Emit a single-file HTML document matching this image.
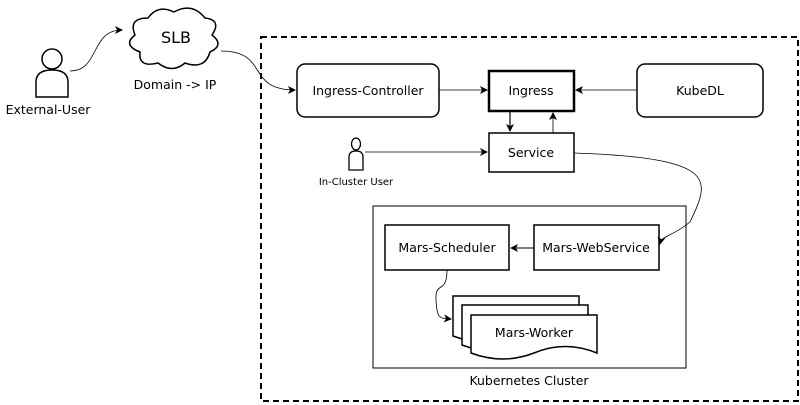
<!DOCTYPE html>
<html><head><style>body{margin:0;background:#fff}svg{display:block}text{font-family:"DejaVu Sans",Verdana,sans-serif;font-size:12.5px;fill:#000}</style></head><body>
<svg width="800" height="405" viewBox="0 0 800 405">
<defs><marker id="a" markerWidth="8" markerHeight="8" refX="7" refY="4" orient="auto" markerUnits="userSpaceOnUse"><path d="M0,0 L8,4 L0,8 L2,4z" fill="#000"/></marker></defs>
<rect x="261" y="37" width="537" height="364" fill="none" stroke="#000" stroke-width="2" stroke-dasharray="6,4"/>
<circle cx="52" cy="59" r="10" fill="#fff" stroke="#000" stroke-width="1.5"/>
<path d="M36,97 L36,82 Q36,70 52,70 Q68,70 68,82 L68,97 Z" fill="#fff" stroke="#000" stroke-width="1.5"/>
<text x="48" y="114" text-anchor="middle">External-User</text>
<path d="M135,35 Q128,18 148,18 Q158,4 174,12 Q192,2 205,18 Q222,20 212,35 Q225,45 210,52 Q205,70 185,63 Q172,74 158,63 Q138,68 140,52 Q122,45 135,35Z" fill="#fff" stroke="#000" stroke-width="1.5"/>
<text x="176" y="43" text-anchor="middle" style="font-size:16px">SLB</text>
<text x="175" y="89" text-anchor="middle">Domain -&gt; IP</text>
<path d="M70,71 C100,71 90,30 122,30" fill="none" stroke="#000" stroke-width="0.8" marker-end="url(#a)"/>
<path d="M221,51 C270,51 245,90 295,90" fill="none" stroke="#000" stroke-width="0.8" marker-end="url(#a)"/>
<rect x="297" y="64" width="142" height="53" rx="8" fill="#fff" stroke="#000" stroke-width="1.5"/>
<text x="368" y="95" text-anchor="middle">Ingress-Controller</text>
<rect x="489" y="71" width="85" height="40" fill="#fff" stroke="#000" stroke-width="2.5"/>
<text x="531" y="95" text-anchor="middle">Ingress</text>
<rect x="637" y="64" width="126" height="53" rx="8" fill="#fff" stroke="#000" stroke-width="1.5"/>
<text x="700" y="95" text-anchor="middle">KubeDL</text>
<rect x="489" y="133" width="85" height="39" fill="#fff" stroke="#000" stroke-width="1.5"/>
<text x="531" y="157" text-anchor="middle">Service</text>
<line x1="439" y1="90" x2="487" y2="90" stroke="#000" stroke-width="0.8" marker-end="url(#a)"/>
<line x1="637" y1="90" x2="576" y2="90" stroke="#000" stroke-width="0.8" marker-end="url(#a)"/>
<line x1="510" y1="111" x2="510" y2="131" stroke="#000" stroke-width="1.2" marker-end="url(#a)"/>
<line x1="553" y1="133" x2="553" y2="113" stroke="#000" stroke-width="0.8" marker-end="url(#a)"/>
<ellipse cx="356" cy="144" rx="4.5" ry="6" fill="#fff" stroke="#000" stroke-width="1.3"/>
<path d="M349,170 L349,157 Q349,151 356,151 Q363,151 363,157 L363,170Z" fill="#fff" stroke="#000" stroke-width="1.3"/>
<text x="356" y="185" text-anchor="middle" style="font-size:10px">In-Cluster User</text>
<line x1="365" y1="152" x2="487" y2="152" stroke="#000" stroke-width="0.8" marker-end="url(#a)"/>
<rect x="373" y="206" width="313" height="162" fill="none" stroke="#000" stroke-width="1"/>
<text x="529" y="385" text-anchor="middle">Kubernetes Cluster</text>
<rect x="385" y="225" width="124" height="45" fill="#fff" stroke="#000" stroke-width="1.5"/>
<text x="447" y="252" text-anchor="middle">Mars-Scheduler</text>
<rect x="534" y="225" width="125" height="45" fill="#fff" stroke="#000" stroke-width="1.5"/>
<text x="596" y="252" text-anchor="middle">Mars-WebService</text>
<line x1="534" y1="248" x2="511" y2="248" stroke="#000" stroke-width="1" marker-end="url(#a)"/>
<path d="M574,153 C720,158 710,180 690,222 C670,238 662,235 660,244" fill="none" stroke="#000" stroke-width="0.8" marker-end="url(#a)"/>
<g fill="#fff" stroke="#000" stroke-width="1.5">
<path d="M453,296 L579,296 L579,336 Q547,322 516,336 Q485,348 453,336Z"/>
<path d="M462,305 L588,305 L588,345 Q556,331 525,345 Q494,357 462,345Z"/>
<path d="M471,315 L597,315 L597,353 Q565,340 534,353 Q503,365 471,353Z"/>
</g>
<text x="534" y="337" text-anchor="middle">Mars-Worker</text>
<path d="M447,270 C447,295 435,280 436,300 C437,320 440,318 451,319" fill="none" stroke="#000" stroke-width="0.8" marker-end="url(#a)"/>
</svg>
</body></html>
